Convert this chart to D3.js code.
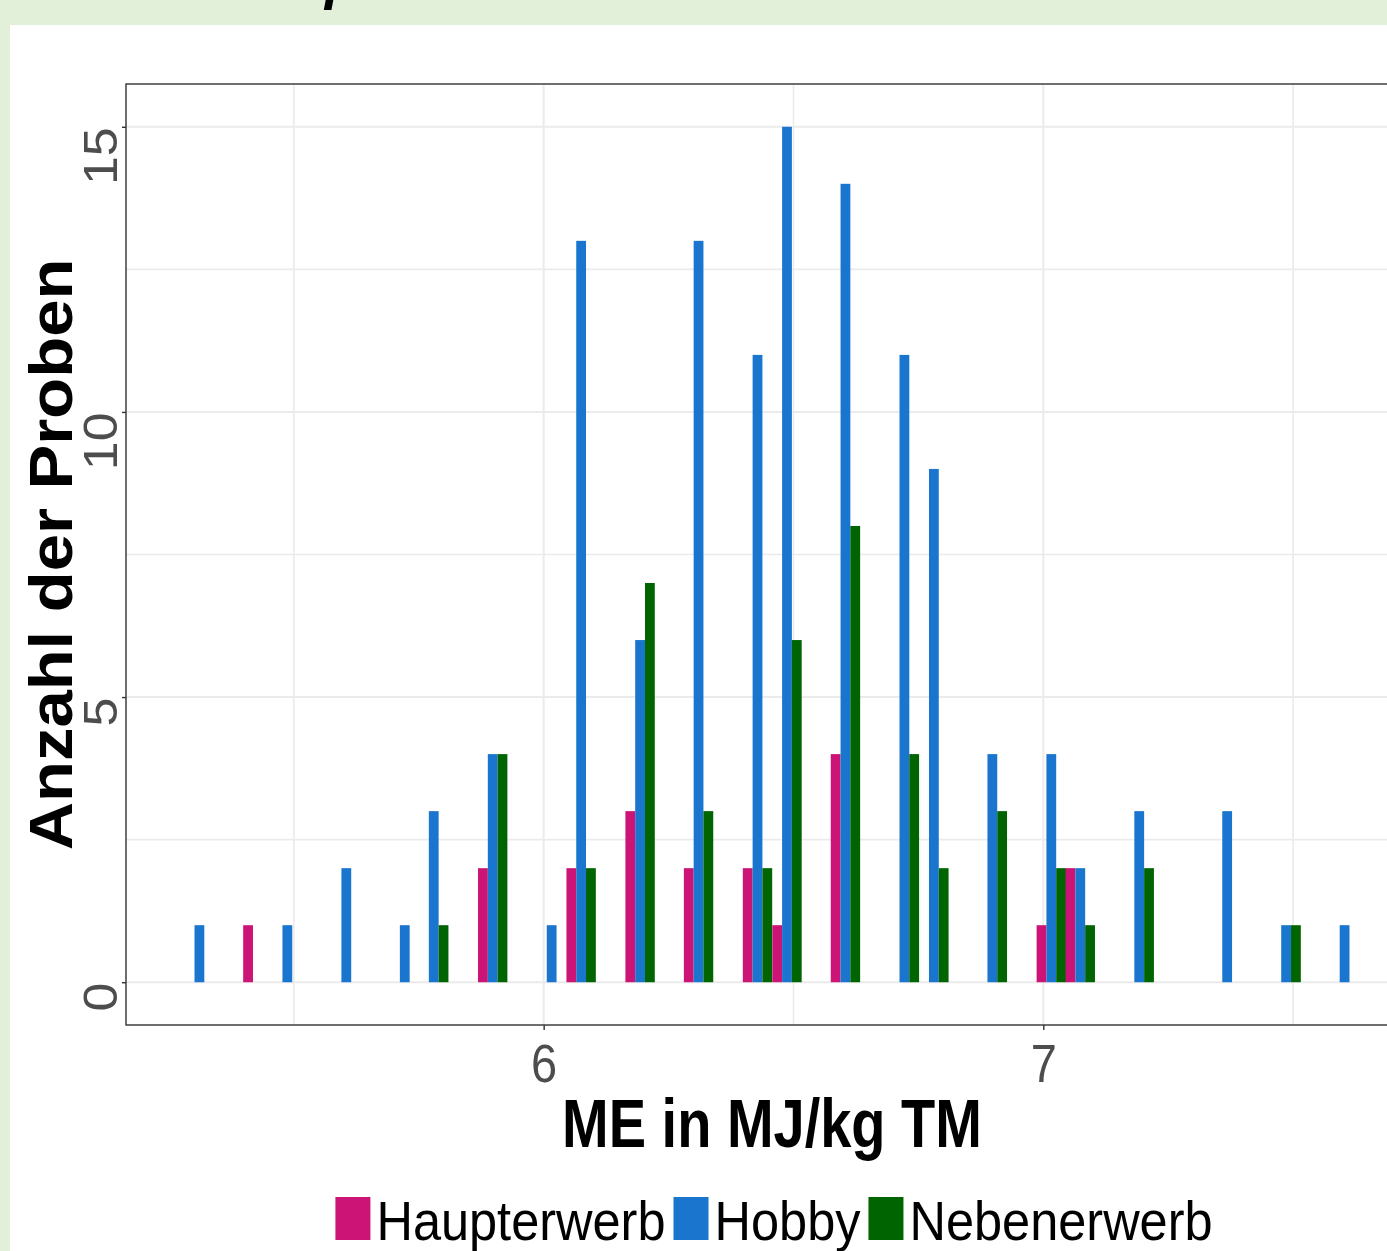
<!DOCTYPE html>
<html>
<head>
<meta charset="utf-8">
<script src="https://cdn.jsdelivr.net/npm/d3@7"></script>
<style>
  body { margin: 0; background: #e2efd9; }
  svg { display: block; }
  text { font-family: "Liberation Sans", Arial, sans-serif; }
</style>
</head>
<body>
<div class="canvas"></div>
<script>
// ME values (MJ/kg TM) where samples occur
const meValues = [5.311, 5.428, 5.487, 5.605, 5.722, 5.780, 5.898, 6.016, 6.075, 6.193, 6.310,
  6.428, 6.487, 6.604, 6.722, 6.781, 6.898, 7.016, 7.074, 7.192, 7.368, 7.486, 7.603];

// Anzahl der Proben per group
const haupterwerb = [0, 1, 0, 0, 0, 0, 2, 0, 2, 3, 2, 2, 1, 4, 0, 0, 0, 1, 2, 0, 0, 0, 0];
const hobby = [1, 0, 1, 2, 1, 3, 4, 1, 13, 6, 13, 11, 15, 14, 11, 9, 4, 4, 2, 3, 3, 1, 1];
const nebenerwerb = [0, 0, 0, 0, 0, 1, 4, 0, 2, 7, 3, 2, 6, 8, 4, 2, 3, 2, 1, 2, 0, 1, 0];

const categories = ["Haupterwerb", "Hobby", "Nebenerwerb"];
const seriesValues = [haupterwerb, hobby, nebenerwerb];
const xTicks = [6, 7];
const yTicks = [0, 5, 10, 15];
const xMinor = [5.5, 6.5, 7.5];
const yMinor = [2.5, 7.5, 12.5];

const colours = ["#cc1476", "#1a75cf", "#006400"];

const W = 1387, H = 1251;
const panel = { left: 126, top: 84, bottom: 1025, right: 1418 };

// flatten to one row per bar
const rows = [];
meValues.forEach((me, i) => {
  categories.forEach((cat, j) => {
    if (seriesValues[j][i] > 0) rows.push({ me, cat, n: seriesValues[j][i] });
  });
});

// dodge width in data units
const groupW = 0.0588;
const slot = d3.scaleBand().domain(categories).range([-groupW / 2, groupW / 2]);

// ggplot style 5% expansion
const xLo = d3.min(meValues) - groupW / 2, xHi = d3.max(meValues) + groupW / 2;
const xPad = (xHi - xLo) * 0.05;
const x = d3.scaleLinear().domain([xLo - xPad, xHi + xPad]).range([panel.left, panel.right]);
const yMax = d3.max(seriesValues.flat());
const y = d3.scaleLinear().domain([-yMax * 0.05, yMax * 1.05]).range([panel.bottom, panel.top]);
const colour = d3.scaleOrdinal().domain(categories).range(colours);

const svg = d3.select(".canvas").append("svg").attr("width", W).attr("height", H);

// backgrounds
svg.append("rect").attr("width", W).attr("height", H).attr("fill", "#e2efd9");
svg.append("rect").attr("x", 10).attr("y", 25).attr("width", W).attr("height", H).attr("fill", "#fff");

// clipped glyph of the title above
svg.append("text")
  .attr("x", 325).attr("y", -2)
  .attr("font-size", 56).attr("font-weight", "bold").attr("font-style", "italic")
  .attr("fill", "#000")
  .text("p");

// grid
const grid = svg.append("g");
grid.selectAll(".gx").data(xTicks.concat(xMinor)).enter().append("line")
  .attr("x1", (d) => x(d)).attr("x2", (d) => x(d))
  .attr("y1", panel.top).attr("y2", panel.bottom)
  .attr("stroke", "#ebebeb").attr("stroke-width", (d) => (xTicks.includes(d) ? 2 : 1.6));
grid.selectAll(".gy").data(yTicks.concat(yMinor)).enter().append("line")
  .attr("x1", panel.left).attr("x2", panel.right)
  .attr("y1", (d) => y(d)).attr("y2", (d) => y(d))
  .attr("stroke", "#ebebeb").attr("stroke-width", (d) => (yTicks.includes(d) ? 2 : 1.6));

// bars
svg.append("g").selectAll("rect").data(rows).enter().append("rect")
  .attr("x", (d) => x(d.me + slot(d.cat)))
  .attr("width", (d) => x(d.me + slot(d.cat) + slot.bandwidth()) - x(d.me + slot(d.cat)))
  .attr("y", (d) => y(d.n))
  .attr("height", (d) => y(0) - y(d.n))
  .attr("fill", (d) => colour(d.cat));

// panel border
svg.append("rect")
  .attr("x", panel.left).attr("y", panel.top)
  .attr("width", panel.right - panel.left).attr("height", panel.bottom - panel.top)
  .attr("fill", "none").attr("stroke", "#333").attr("stroke-width", 1.4);

// y axis
const yAxis = svg.append("g")
  .attr("transform", `translate(${panel.left},0)`)
  .call(d3.axisLeft(y).tickValues(yTicks).tickSize(4).tickFormat(d3.format("d")));
yAxis.select(".domain").remove();
yAxis.selectAll(".tick line").attr("stroke", "#333").attr("stroke-width", 1.4);
yAxis.selectAll(".tick text")
  .attr("x", null).attr("dy", null)
  .attr("transform", "translate(-9,0) rotate(-90) scale(1.06,1)")
  .attr("text-anchor", "end")
  .attr("font-size", 49).attr("fill", "#4d4d4d")
  .style("font-family", "Liberation Sans, Arial, sans-serif");

// x axis
const xAxis = svg.append("g")
  .attr("transform", `translate(0,${panel.bottom})`)
  .call(d3.axisBottom(x).tickValues(xTicks).tickSize(5).tickFormat(d3.format("d")));
xAxis.select(".domain").remove();
xAxis.selectAll(".tick line").attr("stroke", "#333").attr("stroke-width", 1.4);
xAxis.selectAll(".tick text")
  .attr("y", null).attr("dy", null)
  .attr("transform", "translate(0,57) scale(1,1.15)")
  .attr("font-size", 47).attr("fill", "#4d4d4d")
  .style("font-family", "Liberation Sans, Arial, sans-serif");

// axis titles
svg.append("text")
  .attr("transform", `translate(${(panel.left + panel.right) / 2},1147) scale(1,1.22)`)
  .attr("text-anchor", "middle")
  .attr("font-size", 56).attr("font-weight", "bold").attr("fill", "#000")
  .text("ME in MJ/kg TM");

svg.append("text")
  .attr("transform", `translate(72,${(panel.top + panel.bottom) / 2}) rotate(-90) scale(1.098,1)`)
  .attr("text-anchor", "middle")
  .attr("font-size", 61).attr("font-weight", "bold").attr("fill", "#000")
  .text("Anzahl der Proben");

// legend
const legend = svg.append("g");
const items = legend.selectAll("g").data(categories).enter().append("g");
items.append("rect")
  .attr("width", 35).attr("height", 43).attr("y", 1197)
  .attr("fill", (d) => colour(d));
items.append("text")
  .attr("transform", "translate(41,1240) scale(1.01,1.12)")
  .attr("font-size", 50).attr("fill", "#000")
  .text((d) => d);

let pos = 0;
items.each(function () {
  const g = d3.select(this);
  g.attr("data-x", pos);
  pos += 41 + g.select("text").node().getComputedTextLength() * 1.01 + 8;
});
const total = pos - 8;
const startX = (panel.left + panel.right) / 2 + 2 - total / 2;
items.attr("transform", function () {
  return `translate(${startX + +d3.select(this).attr("data-x")},0)`;
});
</script>
</body>
</html>
